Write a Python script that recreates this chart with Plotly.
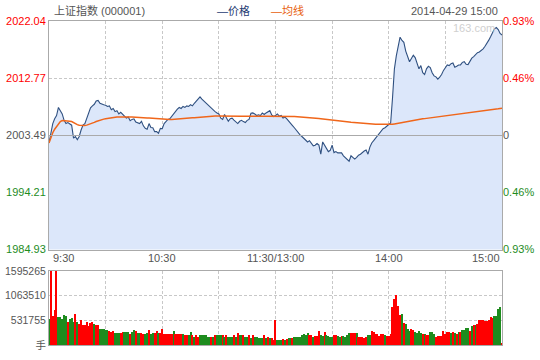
import numpy as np
import plotly.graph_objects as go

# ---------------- data ----------------
prev_close = 2003.49

price = [
    2002.29, 2004.12, 2005.43, 2006.22, 2006.74, 2008.05, 2007.53, 2007.00, 2005.95, 2005.43,
    2005.59, 2005.43, 2005.17, 2003.07, 2003.33, 2002.81, 2003.33, 2004.38, 2005.17, 2005.43,
    2006.22, 2007.00, 2008.00, 2008.31, 2008.57, 2009.10, 2009.20, 2008.73, 2008.57, 2008.50,
    2008.42, 2008.21, 2008.31, 2007.68, 2007.89, 2007.37, 2007.53, 2007.00, 2007.26, 2007.00,
    2006.74, 2006.32, 2006.48, 2005.90, 2006.11, 2006.20, 2005.69, 2005.59, 2005.43, 2005.80,
    2005.06, 2004.65, 2004.50, 2005.43, 2004.80, 2004.75, 2004.12, 2004.12, 2003.86, 2004.65,
    2004.60, 2005.43, 2005.80, 2006.11, 2006.22, 2006.64, 2007.00, 2007.40, 2007.79, 2008.05,
    2007.89, 2008.21, 2008.05, 2008.31, 2008.21, 2008.50, 2008.31, 2008.73, 2009.10, 2009.46,
    2009.78, 2009.40, 2009.10, 2008.73, 2008.57, 2008.20, 2007.89, 2007.68, 2007.37, 2007.16,
    2007.00, 2006.30, 2006.11, 2006.90, 2006.22, 2005.80, 2006.22, 2006.32, 2006.00, 2005.69,
    2005.43, 2005.80, 2005.95, 2005.75, 2005.59, 2005.95, 2006.11, 2007.10, 2007.16, 2007.00,
    2006.74, 2006.85, 2006.74, 2007.16, 2006.90, 2007.16, 2007.37, 2007.53, 2006.84, 2006.58,
    2006.74, 2007.00, 2006.63, 2006.74, 2006.32, 2006.48, 2006.21, 2005.90, 2005.58, 2005.11,
    2004.75, 2004.33, 2003.91, 2003.59, 2003.33, 2003.02, 2002.86, 2002.44, 2002.65, 2002.23,
    2001.81, 2001.92, 2002.18, 2001.92, 2000.45, 2002.44, 2001.92, 2001.24, 2000.87, 2001.08,
    2001.92, 2000.71, 2000.87, 2000.66, 2000.71, 2000.66, 2000.19, 1999.93, 1999.66, 1999.30,
    2000.19, 1999.93, 1999.66, 1999.93, 2000.29, 2000.45, 2000.77, 2000.97, 2001.13, 2000.45,
    2001.60, 2002.28, 2002.65, 2003.07, 2003.44, 2003.91, 2004.28, 2004.59, 2004.75, 2005.06,
    2005.27, 2005.53, 2009.62, 2014.34, 2016.44, 2018.27, 2019.48, 2018.95, 2018.64, 2017.22,
    2016.17, 2015.49, 2016.02, 2016.54, 2016.17, 2015.28, 2014.34, 2014.86, 2013.71, 2013.40,
    2014.34, 2014.76, 2014.55, 2013.71, 2013.19, 2013.03, 2012.66, 2012.98, 2013.40, 2014.08,
    2014.55, 2014.97, 2014.86, 2015.18, 2015.28, 2014.60, 2014.76, 2014.97, 2014.97, 2015.39,
    2015.49, 2015.07, 2015.02, 2015.65, 2016.07, 2016.33, 2016.65, 2016.96, 2017.07, 2017.27,
    2017.59, 2018.01, 2018.64, 2019.00, 2019.58, 2020.10, 2020.84, 2021.05, 2020.73, 2020.10,
    2019.84,
]

volume = [
    567000, 1595265, 630000, 756000, 1595265, 602000, 616000, 567000, 651000, 630000,
    511000, 567000, 581000, 511000, 672000, 504000, 462000, 546000, 441000, 441000,
    504000, 420000, 476000, 504000, 462000, 441000, 441000, 357000, 357000, 357000,
    336000, 329000, 315000, 294000, 315000, 273000, 273000, 273000, 273000, 280000,
    294000, 294000, 294000, 252000, 294000, 336000, 308000, 273000, 273000, 273000,
    252000, 252000, 273000, 329000, 238000, 273000, 273000, 315000, 273000, 273000,
    357000, 252000, 252000, 252000, 252000, 252000, 315000, 238000, 252000, 252000,
    252000, 238000, 217000, 217000, 217000, 294000, 231000, 189000, 217000, 189000,
    217000, 217000, 217000, 217000, 189000, 189000, 189000, 189000, 217000, 217000,
    217000, 217000, 217000, 189000, 217000, 189000, 189000, 189000, 217000, 189000,
    273000, 231000, 231000, 217000, 189000, 189000, 217000, 161000, 217000, 189000,
    189000, 161000, 161000, 161000, 217000, 161000, 189000, 161000, 161000, 119000,
    546000, 119000, 119000, 119000, 147000, 126000, 147000, 168000, 168000, 168000,
    189000, 189000, 189000, 189000, 231000, 252000, 231000, 273000, 231000, 231000,
    189000, 210000, 210000, 315000, 231000, 210000, 294000, 231000, 210000, 189000,
    189000, 217000, 231000, 210000, 189000, 210000, 210000, 189000, 231000, 259000,
    273000, 273000, 273000, 273000, 189000, 189000, 189000, 168000, 189000, 231000,
    231000, 315000, 294000, 252000, 252000, 210000, 252000, 252000, 231000, 210000,
    210000, 252000, 819000, 987000, 1085000, 840000, 651000, 672000, 483000, 462000,
    357000, 315000, 357000, 336000, 294000, 273000, 315000, 273000, 252000, 252000,
    231000, 231000, 294000, 294000, 252000, 189000, 210000, 210000, 210000, 315000,
    252000, 294000, 294000, 273000, 294000, 273000, 252000, 294000, 294000, 336000,
    336000, 378000, 378000, 315000, 420000, 441000, 441000, 462000, 546000, 546000,
    546000, 525000, 525000, 546000, 609000, 588000, 630000, 630000, 777000, 819000,
    42000,
]

# r = up minute (red bar), g = down minute (green bar)
direction = (
    "grrrrggggg" "rgggrgrrrr" "rrrrgrrggg" "ggrrrgggrr" "gggrggrggr" "rggrggrrgr"
    "rrrrrrgrrr" "rgrrggrgrr" "ggggggrgrg" "ggrgrgggrg" "rggrggrgrg" "ggggrgrgrr"
    "rgggrgrggr" "ggggggggrr" "grrrggrggg" "grrggrgggg" "rrrgrrrrrg" "grrrrrrrgr"
    "rrrrrrrgrg" "ggrrggggrg" "rrgggrrrrr" "rrrgrgrgrg" "gggrgrgrrr" "rrrrrrgggg"
    "r"
)

price_ticks = [2022.04, 2012.77, 2003.49, 1994.21, 1984.93]
price_tick_labels = ["2022.04", "2012.77", "2003.49", "1994.21", "1984.93"]
pct_tick_labels = ["0.93%", "0.46%", "0", "0.46%", "0.93%"]
vol_ticks = [1595265, 1063510, 531755, 0]
vol_tick_labels = ["1595265", "1063510", "531755", "手"]
time_ticks = [0, 60, 120, 180, 240]
time_labels = ["9:30", "10:30", "11:30/13:00", "14:00", "15:00"]

# ---------------- derived ----------------
minutes = np.arange(len(price))
p = np.array(price)
# 均线: running mean of the minute prices
avg_price = np.cumsum(p) / np.arange(1, len(p) + 1)

RED = "#ff0000"
GREEN = "#1e8c1e"
GREY = "#555555"
FONT = "Liberation Sans, Noto Sans CJK SC, sans-serif"


def tick_color(val):
    if abs(val - prev_close) < 1e-6:
        return GREY
    return RED if val > prev_close else GREEN


left_text = [f'<span style="color:{tick_color(t)}">{s}</span>'
             for t, s in zip(price_ticks, price_tick_labels)]
right_text = [f'<span style="color:{tick_color(t)}">{s}</span>'
              for t, s in zip(price_ticks, pct_tick_labels)]
bar_colors = [RED if d == "r" else GREEN for d in direction]

fig = go.Figure()

fig.add_trace(go.Scatter(
    x=minutes, y=price, mode="lines",
    line=dict(color="#2f5080", width=1.1),
    fill="tozeroy", fillcolor="#dce7fa",
    xaxis="x", yaxis="y", hoverinfo="skip", showlegend=False))
fig.add_trace(go.Scatter(
    x=minutes, y=avg_price, mode="lines",
    line=dict(color="#f0661a", width=1.5),
    xaxis="x", yaxis="y", hoverinfo="skip", showlegend=False))
fig.add_trace(go.Scatter(
    x=[minutes[0]], y=[prev_close], mode="markers", marker=dict(opacity=0),
    xaxis="x", yaxis="y3", hoverinfo="skip", showlegend=False))
fig.add_trace(go.Bar(
    x=minutes, y=volume, marker=dict(color=bar_colors, line=dict(width=0)),
    width=0.6, xaxis="x2", yaxis="y2", hoverinfo="skip", showlegend=False))

xdom = [49 / 540, 502 / 540]
grid = dict(showgrid=True, gridcolor="#c8c8c8", griddash="3px,2px", gridwidth=1)
border = dict(showline=True, mirror=True, linecolor="#aaaaaa", linewidth=1)

fig.update_layout(
    width=540, height=360,
    margin=dict(l=0, r=0, t=0, b=0),
    paper_bgcolor="white", plot_bgcolor="white",
    font=dict(family=FONT, size=11, color=GREY),
    bargap=0,
    xaxis=dict(domain=xdom, range=[0, 240], anchor="y", tickvals=list(range(0, 241, 30)),
               showticklabels=False, ticks="", zeroline=False, **grid, **border),
    yaxis=dict(domain=[1 - 252 / 360, 1 - 16 / 360], range=[price_ticks[-1], price_ticks[0]],
               anchor="x", tickvals=price_ticks, ticktext=left_text, ticks="",
               zeroline=False, tickfont=dict(size=11), **grid, **border),
    yaxis3=dict(overlaying="y", side="right", anchor="x",
                range=[price_ticks[-1], price_ticks[0]], tickvals=price_ticks,
                ticktext=right_text, ticks="", showgrid=False, zeroline=False,
                showline=False, tickfont=dict(size=11)),
    xaxis2=dict(domain=xdom, range=[0, 240], anchor="y2", tickvals=list(range(0, 241, 30)),
                showticklabels=False, ticks="", zeroline=False, **grid, **border),
    yaxis2=dict(domain=[1 - 351 / 360, 1 - 274 / 360], range=[0, vol_ticks[0]],
                anchor="x2", tickvals=vol_ticks, ticktext=vol_tick_labels, ticks="",
                zeroline=False, tickfont=dict(size=10.5, color=GREY), **grid, **border),
)

# previous close line
fig.add_hline(y=prev_close, line=dict(color="#aaaaaa", width=1), xref="x", yref="y")

# time labels under price panel
for t, lab in zip(time_ticks, time_labels):
    anchor = "left" if t == time_ticks[0] else ("right" if t == time_ticks[-1] else "center")
    fig.add_annotation(x=t, y=1 - 261 / 360, xref="x", yref="paper", text=lab,
                       showarrow=False, xanchor=anchor, yanchor="middle",
                       font=dict(size=11, color=GREY), xshift=2 if anchor == "left" else 0)

# header
HY = 1 - 5 / 360
fig.add_annotation(x=52 / 540, y=HY, xref="paper", yref="paper",
                   text="上证指数 (000001)", showarrow=False, xanchor="left",
                   yanchor="middle", font=dict(size=11, color=GREY))
fig.add_annotation(x=215 / 540, y=HY, xref="paper", yref="paper",
                   text="—价格", showarrow=False, xanchor="left",
                   yanchor="middle", font=dict(size=11, color="#1f3d73"))
fig.add_annotation(x=269 / 540, y=HY, xref="paper", yref="paper",
                   text="—均线", showarrow=False, xanchor="left",
                   yanchor="middle", font=dict(size=11, color="#e8600c"))
fig.add_annotation(x=500 / 540, y=HY, xref="paper", yref="paper",
                   text="2014-04-29 15:00", showarrow=False, xanchor="right",
                   yanchor="middle", font=dict(size=11, color=GREY))
# watermark
fig.add_annotation(x=497 / 540, y=1 - 23 / 360, xref="paper", yref="paper",
                   text="163.com", showarrow=False, xanchor="right",
                   yanchor="middle", font=dict(size=11, color="#d0d0d0"))

fig.write_html("out.html")
